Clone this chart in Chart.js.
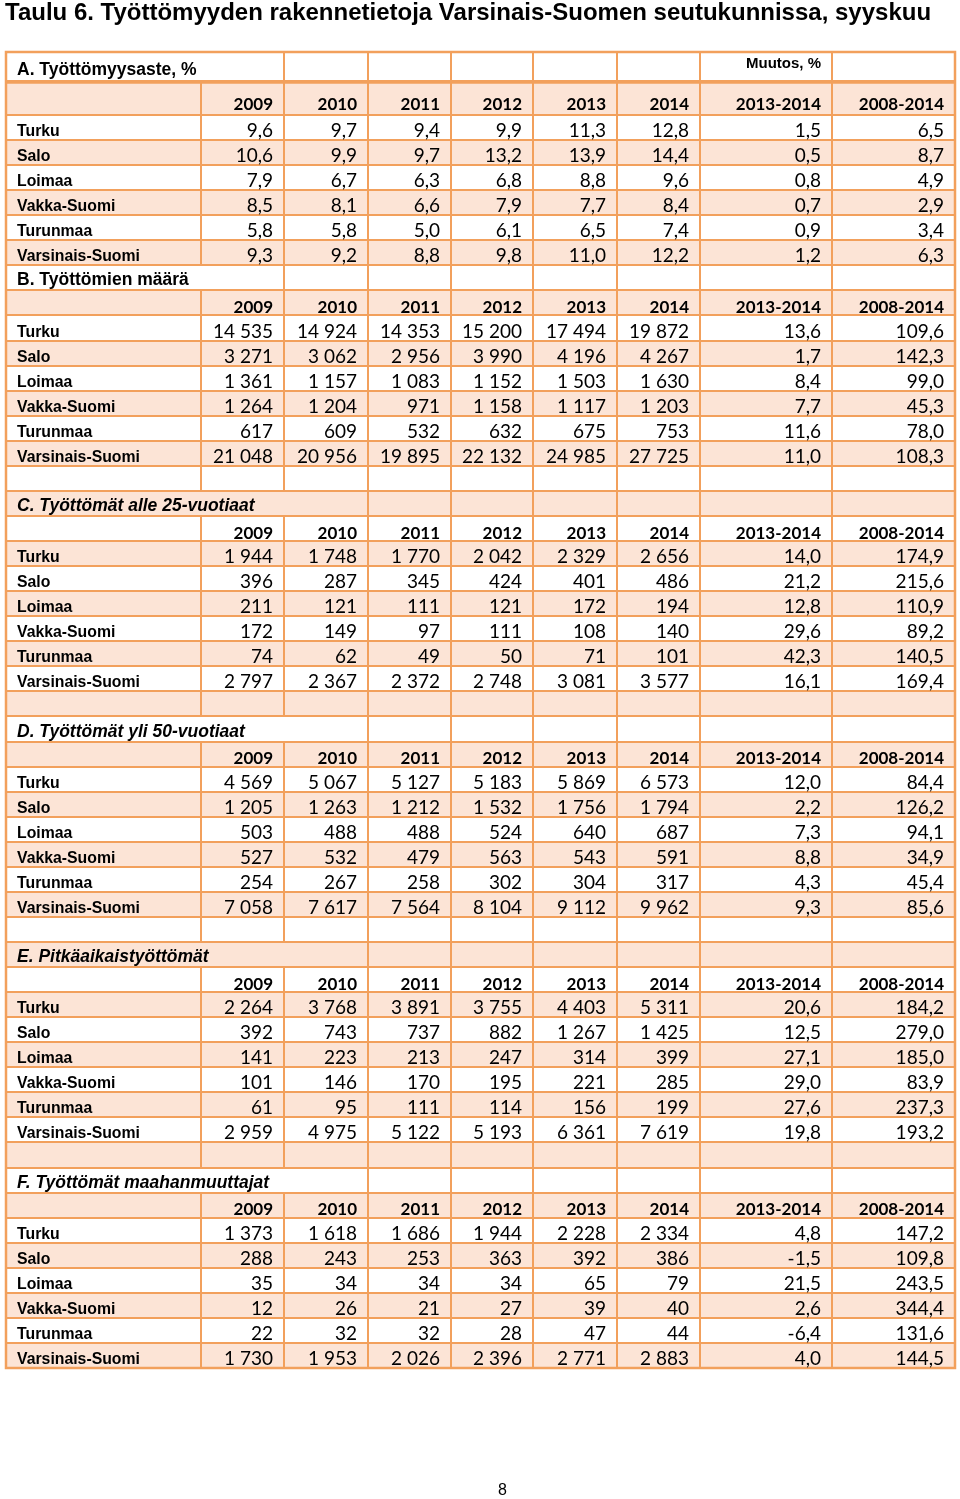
<!DOCTYPE html>
<html lang="fi">
<head>
<meta charset="utf-8">
<title>Taulu 6</title>
<script src="https://cdn.jsdelivr.net/npm/chart.js@4.4.1/dist/chart.umd.min.js"></script>
<style>
  html, body { margin:0; padding:0; background:#fff; }
  #page { position:relative; width:960px; height:1499px; overflow:hidden; }
  #title { position:absolute; left:5px; top:0px; font:bold 24px/24px "Liberation Sans", Arial, sans-serif; color:#000; white-space:nowrap; }
  #pageNo { position:absolute; left:498px; top:1481px; font:16px "Liberation Sans", Arial, sans-serif; color:#000; }
  canvas { position:absolute; left:0; top:0; }
</style>
</head>
<body>
<div id="page">
  <canvas id="table" width="960" height="1499"></canvas>
  <div id="title">Taulu 6. Työttömyyden rakennetietoja Varsinais-Suomen seutukunnissa, syyskuu</div>
  <div id="pageNo">8</div>
</div>
<script>
const years = ['2009','2010','2011','2012','2013','2014'];
const changes = ['2013-2014','2008-2014'];
const regions = ['Turku','Salo','Loimaa','Vakka-Suomi','Turunmaa','Varsinais-Suomi'];
const sectionTitles = [
  'A. Työttömyysaste, %',
  'B. Työttömien määrä',
  'C. Työttömät alle 25-vuotiaat',
  'D. Työttömät yli 50-vuotiaat',
  'E. Pitkäaikaistyöttömät',
  'F. Työttömät maahanmuuttajat',
];
const changeNote = 'Muutos, %';

const rateA = [
  [9.6, 9.7, 9.4, 9.9, 11.3, 12.8],
  [10.6, 9.9, 9.7, 13.2, 13.9, 14.4],
  [7.9, 6.7, 6.3, 6.8, 8.8, 9.6],
  [8.5, 8.1, 6.6, 7.9, 7.7, 8.4],
  [5.8, 5.8, 5.0, 6.1, 6.5, 7.4],
  [9.3, 9.2, 8.8, 9.8, 11.0, 12.2],
];
const rateAChange = [[1.5, 6.5],[0.5, 8.7],[0.8, 4.9],[0.7, 2.9],[0.9, 3.4],[1.2, 6.3]];

const unemployedB = [
  [14535, 14924, 14353, 15200, 17494, 19872],
  [3271, 3062, 2956, 3990, 4196, 4267],
  [1361, 1157, 1083, 1152, 1503, 1630],
  [1264, 1204, 971, 1158, 1117, 1203],
  [617, 609, 532, 632, 675, 753],
  [21048, 20956, 19895, 22132, 24985, 27725],
];
const unemployedBChange = [[13.6, 109.6],[1.7, 142.3],[8.4, 99.0],[7.7, 45.3],[11.6, 78.0],[11.0, 108.3]];

const youthC = [
  [1944, 1748, 1770, 2042, 2329, 2656],
  [396, 287, 345, 424, 401, 486],
  [211, 121, 111, 121, 172, 194],
  [172, 149, 97, 111, 108, 140],
  [74, 62, 49, 50, 71, 101],
  [2797, 2367, 2372, 2748, 3081, 3577],
];
const youthCChange = [[14.0, 174.9],[21.2, 215.6],[12.8, 110.9],[29.6, 89.2],[42.3, 140.5],[16.1, 169.4]];

const over50D = [
  [4569, 5067, 5127, 5183, 5869, 6573],
  [1205, 1263, 1212, 1532, 1756, 1794],
  [503, 488, 488, 524, 640, 687],
  [527, 532, 479, 563, 543, 591],
  [254, 267, 258, 302, 304, 317],
  [7058, 7617, 7564, 8104, 9112, 9962],
];
const over50DChange = [[12.0, 84.4],[2.2, 126.2],[7.3, 94.1],[8.8, 34.9],[4.3, 45.4],[9.3, 85.6]];

const longTermE = [
  [2264, 3768, 3891, 3755, 4403, 5311],
  [392, 743, 737, 882, 1267, 1425],
  [141, 223, 213, 247, 314, 399],
  [101, 146, 170, 195, 221, 285],
  [61, 95, 111, 114, 156, 199],
  [2959, 4975, 5122, 5193, 6361, 7619],
];
const longTermEChange = [[20.6, 184.2],[12.5, 279.0],[27.1, 185.0],[29.0, 83.9],[27.6, 237.3],[19.8, 193.2]];

const immigrantsF = [
  [1373, 1618, 1686, 1944, 2228, 2334],
  [288, 243, 253, 363, 392, 386],
  [35, 34, 34, 34, 65, 79],
  [12, 26, 21, 27, 39, 40],
  [22, 32, 32, 28, 47, 44],
  [1730, 1953, 2026, 2396, 2771, 2883],
];
const immigrantsFChange = [[4.8, 147.2],[-1.5, 109.8],[21.5, 243.5],[2.6, 344.4],[-6.4, 131.6],[4.0, 144.5]];

// Layout (table units = px inside the table)
const colEdges = [0, 195, 278, 362, 445, 527, 611, 694, 826, 949];
const ROW_H = 25.06;
const FILL = '#FCE4D6';
const LINE = '#F2A05C';
const PAD = 11;

function fmt(n, dec){
  const s = Math.abs(n).toFixed(dec).split('.');
  const int = s[0].replace(/\B(?=(\d{3})+(?!\d))/g, ' ');
  return (n < 0 ? '-' : '') + int + (s[1] ? ',' + s[1] : '');
}

const sections = [
  { values: rateA, change: rateAChange, dec: 1 },
  { values: unemployedB, change: unemployedBChange, dec: 0 },
  { values: youthC, change: youthCChange, dec: 0 },
  { values: over50D, change: over50DChange, dec: 0 },
  { values: longTermE, change: longTermEChange, dec: 0 },
  { values: immigrantsF, change: immigrantsFChange, dec: 0 },
];

// Build the row list
const rows = [];
sections.forEach((s, si) => {
  rows.push({ type:'title', text: sectionTitles[si], italic: si >= 2, span: si >= 2 ? 3 : 2, first: si === 0 });
  rows.push({ type:'header', first: si === 0 });
  regions.forEach((reg, ri) => {
    rows.push({ type:'data', label: reg, cells: s.values[ri].map(v => fmt(v, s.dec)).concat(s.change[ri].map(v => fmt(v, 1))) });
  });
  if (si >= 1 && si <= 4) rows.push({ type:'blank' });
});
const rowEdges = [0];
rows.forEach((r, i) => {
  const h = i === 0 ? 29 : i === 1 ? 34 : ROW_H;
  rowEdges.push(rowEdges[i] + h);
});
const TABLE_W = colEdges[colEdges.length - 1];
const TABLE_H = rowEdges[rowEdges.length - 1];

const FONT_LABEL = 'bold 15.8px "Liberation Sans", Arial, sans-serif';
const FONT_NUM = '19px Lato, "Open Sans", sans-serif';
const FONT_HEAD = 'bold 17px Lato, "Open Sans", sans-serif';
const FONT_SECTION = 'bold 17.5px "Liberation Sans", Arial, sans-serif';
const FONT_SECTION_I = 'italic bold 17.5px "Liberation Sans", Arial, sans-serif';
const FONT_NOTE = 'bold 15px "Liberation Sans", Arial, sans-serif';

const tablePlugin = {
  id: 'tablePlugin',
  beforeDatasetsDraw(chart){
    const { ctx, scales: { x, y } } = chart;
    const px = v => Math.round(x.getPixelForValue(v));
    const py = v => Math.round(y.getPixelForValue(v));
    ctx.save();

    // cell fills
    rows.forEach((r, i) => {
      if (i % 2 === 1) {
        ctx.fillStyle = FILL;
        ctx.fillRect(px(0), py(rowEdges[i]), px(TABLE_W) - px(0), py(rowEdges[i+1]) - py(rowEdges[i]));
      }
    });

    // grid lines
    ctx.strokeStyle = LINE;
    ctx.lineWidth = 2;
    ctx.beginPath();
    rows.forEach((r, i) => {
      const top = py(rowEdges[i]), bot = py(rowEdges[i+1]);
      colEdges.forEach((e, c) => {
        if (c === 0 || c === colEdges.length - 1) return;
        if (r.type === 'title' && c < r.span) return;
        ctx.moveTo(px(e), top); ctx.lineTo(px(e), bot);
      });
      if (i < rows.length - 1) { ctx.moveTo(px(0), bot); ctx.lineTo(px(TABLE_W), bot); }
    });
    ctx.stroke();
    ctx.lineWidth = 3.5;
    ctx.beginPath();
    ctx.moveTo(px(0), py(rowEdges[1]) + 1); ctx.lineTo(px(TABLE_W), py(rowEdges[1]) + 1);
    ctx.stroke();
    ctx.lineWidth = 2.5;
    ctx.strokeRect(px(0), py(0), px(TABLE_W) - px(0), py(TABLE_H) - py(0));

    // texts
    ctx.fillStyle = '#000';
    ctx.textBaseline = 'alphabetic';
    rows.forEach((r, i) => {
      const top = y.getPixelForValue(rowEdges[i]);
      const bot = y.getPixelForValue(rowEdges[i+1]);
      if (r.type === 'title') {
        ctx.font = r.italic ? FONT_SECTION_I : FONT_SECTION;
        ctx.textAlign = 'left';
        ctx.fillText(r.text, x.getPixelForValue(colEdges[0]) + PAD, bot - (r.first ? 6 : 5));
        if (r.first) {
          ctx.font = FONT_NOTE;
          ctx.textAlign = 'right';
          ctx.fillText(changeNote, x.getPixelForValue(colEdges[8]) - PAD, top + 16);
        }
      } else if (r.type === 'header') {
        ctx.font = FONT_HEAD;
        ctx.textAlign = 'right';
        years.concat(changes).forEach((h, c) => {
          ctx.fillText(h, x.getPixelForValue(colEdges[c+2]) - PAD, bot - (r.first ? 5 : 2.5));
        });
      } else if (r.type === 'data') {
        ctx.font = FONT_LABEL;
        ctx.textAlign = 'left';
        ctx.fillText(r.label, x.getPixelForValue(colEdges[0]) + PAD, bot - 4);
        ctx.font = FONT_NUM;
        ctx.textAlign = 'right';
        r.cells.forEach((t, c) => {
          ctx.fillText(t, x.getPixelForValue(colEdges[c+2]) - PAD, bot - 3);
        });
      }
    });
    ctx.restore();
  }
};

function draw(){
  new Chart(document.getElementById('table'), {
    type: 'scatter',
    data: { datasets: [] },
    options: {
      responsive: false,
      animation: false,
      events: [],
      layout: { padding: { left: 6, top: 52, right: 5, bottom: 131 } },
      plugins: { legend: { display: false }, tooltip: { enabled: false }, title: { display: false } },
      scales: {
        x: { type: 'linear', min: 0, max: TABLE_W, display: false },
        y: { type: 'linear', min: 0, max: TABLE_H, reverse: true, display: false },
      },
    },
    plugins: [tablePlugin],
  });
}

Promise.all([
  document.fonts.load(FONT_NUM), document.fonts.load(FONT_HEAD),
  document.fonts.load(FONT_LABEL), document.fonts.load(FONT_SECTION_I),
]).then(draw, draw);
</script>
</body>
</html>
